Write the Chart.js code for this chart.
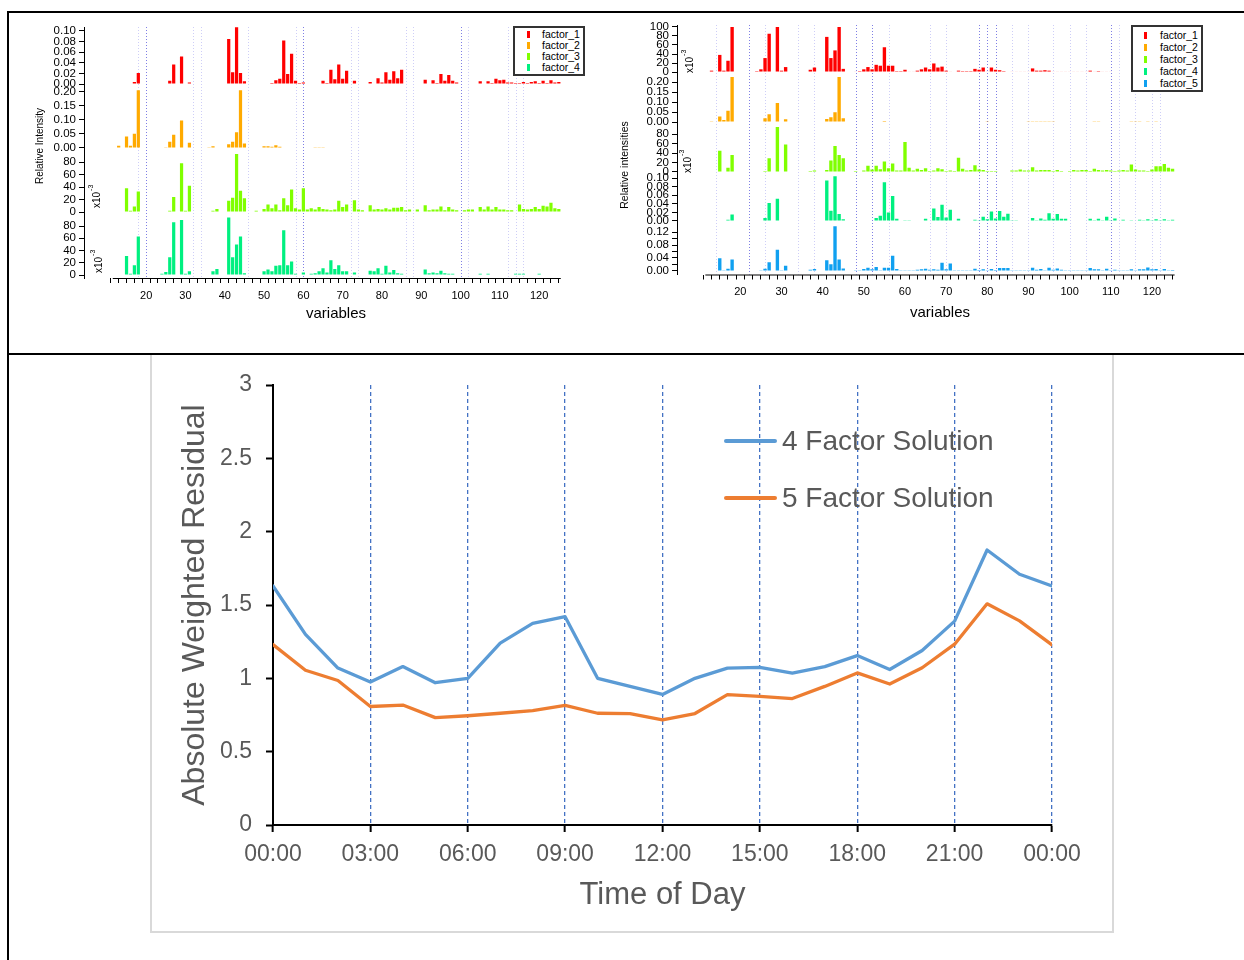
<!DOCTYPE html>
<html lang="en">
<head>
<meta charset="utf-8">
<title>Factor profiles and absolute weighted residual</title>
<script src="https://cdn.jsdelivr.net/npm/chart.js@4.4.1/dist/chart.umd.min.js"></script>
<style>
  html, body { margin: 0; padding: 0; background: #fff; }
  body { position: relative; width: 1244px; height: 960px; overflow: hidden;
         font-family: 'Liberation Sans', Arial, sans-serif; }
  canvas { position: absolute; }
  .rule { position: absolute; background: #000; }
  .frame { position: absolute; left: 150px; top: 354px; width: 960px; height: 577px;
           border: 2px solid #d9d9d9; border-top: none; }
  .legend { position: absolute; background: #fff; border: 2px solid #333; box-sizing: border-box; }
  .legend .item { position: absolute; font-size: 10.5px; line-height: 12px; white-space: nowrap; color: #000; }
  .legend .mark { position: absolute; width: 3px; height: 7px; }
  .res-item { position: absolute; font-size: 28px; line-height: 28px; color: #595959; white-space: nowrap; }
  .res-line { position: absolute; height: 4px; border-radius: 2px; }
</style>
</head>
<body>
<div class="frame"></div>
<canvas id="profilesLeft" width="600" height="340" style="left:0;top:0"></canvas>
<canvas id="profilesRight" width="644" height="340" style="left:600px;top:0"></canvas>
<canvas id="residuals" width="958" height="575" style="left:152px;top:356px"></canvas>
<div id="legendLeft" class="legend" style="left:513px;top:26px;width:72px;height:50px"></div>
<div id="legendRight" class="legend" style="left:1131px;top:25px;width:72px;height:67px"></div>
<div id="legendRes"></div>
<div class="rule" style="left:8px;top:11px;width:1236px;height:2px"></div>
<div class="rule" style="left:7px;top:11px;width:2px;height:949px"></div>
<div class="rule" style="left:8px;top:353px;width:1236px;height:2px"></div>

<script>
// ══════════════════════════════════════════════════════════════
//  Factor profiles (4 / 5 factors) · absolute weighted residual
// ══════════════════════════════════════════════════════════════

// ─── Data: profiles (variables 12 … 125) ───────────────────────
const VARIABLES = Array.from({ length: 114 }, (_, i) => 12 + i);
const VAR_TICKS = [12, 14, 16, 18, 20, 22, 24, 26, 28, 30, 32, 34, 36, 38, 40, 42, 44, 46, 48, 50,
  52, 54, 56, 58, 60, 62, 64, 66, 68, 70, 72, 74, 76, 78, 80, 82, 84, 86, 88, 90,
  92, 94, 96, 98, 100, 102, 104, 106, 108, 110, 112, 114, 116, 118, 120, 122, 124];
const VAR_LABELS = [20, 30, 40, 50, 60, 70, 80, 90, 100, 110, 120];

const FACTOR_NAMES  = ['factor_1', 'factor_2', 'factor_3', 'factor_4', 'factor_5'];
const FACTOR_COLORS = ['#ff0000', '#ffaa00', '#80ff00', '#00f080', '#10a0f0'];

// 4-factor solution (left)
const LEFT_F1 = [
  0, 0, 0, 0.001, 0.001, 0.004, 0.021, 0, 0, 0,
  0, 0, 0, 0, 0.006, 0.037, 0, 0.052, 0.001, 0.003,
  0, 0, 0, 0, 0, 0.001, 0.001, 0, 0, 0.085,
  0.022, 0.107, 0.021, 0.005, 0, 0, 0, 0, 0.001, 0.001,
  0.002, 0.007, 0.010, 0.082, 0.019, 0.057, 0.006, 0.002, 0.003, 0.001,
  0, 0, 0.001, 0.006, 0.002, 0.027, 0.009, 0.037, 0.010, 0.025,
  0, 0.006, 0.001, 0, 0, 0.004, 0.001, 0.011, 0.003, 0.022,
  0.008, 0.024, 0.011, 0.027, 0.001, 0.001, 0, 0, 0, 0.008,
  0.001, 0.007, 0.002, 0.019, 0.006, 0.017, 0.006, 0.003, 0.001, 0,
  0, 0.001, 0.001, 0.005, 0.001, 0.005, 0.002, 0.010, 0.007, 0.008,
  0.003, 0.003, 0.002, 0.002, 0.004, 0.002, 0.004, 0.005, 0.002, 0.006,
  0.002, 0.007, 0.003, 0.004];
const LEFT_F2 = [
  0, 0.008, 0, 0.041, 0.008, 0.051, 0.206, 0, 0, 0,
  0, 0, 0.002, 0.003, 0.022, 0.047, 0.002, 0.098, 0.002, 0.019,
  0, 0, 0, 0, 0.003, 0.006, 0, 0, 0, 0.013,
  0.022, 0.056, 0.206, 0.016, 0, 0, 0, 0, 0.006, 0.006,
  0.004, 0.010, 0.004, 0, 0.002, 0, 0.002, 0.002, 0.002, 0,
  0.002, 0.003, 0.003, 0.003, 0.002, 0.002, 0.002, 0.002, 0.002, 0.002,
  0, 0, 0, 0.002, 0.002, 0.002, 0.002, 0.002, 0, 0,
  0, 0, 0, 0, 0, 0, 0, 0, 0, 0.002,
  0, 0, 0, 0, 0, 0, 0, 0, 0, 0,
  0, 0.002, 0.002, 0.002, 0, 0, 0, 0, 0, 0,
  0, 0, 0.002, 0, 0, 0, 0.002, 0.002, 0, 0,
  0, 0.002, 0, 0];
const LEFT_F3 = [ // x10^-3
  0, 0, 0, 38, 2, 9, 33, 0, 0, 0,
  0, 0, 0, 0, 2, 24, 0, 78, 2, 42,
  0, 0, 0, 0, 0, 2, 5, 0, 0, 18,
  23, 93, 34, 22, 0, 0, 2, 0, 5, 12,
  6, 12, 3, 22, 11, 36, 6, 4, 38, 4,
  6, 4, 8, 5, 4, 3, 4, 18, 8, 12,
  0, 19, 4, 3, 0, 11, 4, 5, 4, 6,
  4, 7, 7, 8, 3, 4, 0, 4, 0, 11,
  3, 4, 4, 9, 3, 8, 4, 3, 0, 3,
  4, 4, 0, 8, 4, 9, 4, 8, 4, 4,
  3, 3, 0, 12, 5, 4, 5, 8, 5, 10,
  9, 15, 6, 5];
const LEFT_F4 = [ // x10^-3
  0, 1, 0, 31, 2, 16, 63, 0, 0, 0,
  0, 0, 2, 5, 29, 86, 0, 90, 2, 6,
  0, 0, 0, 0, 0, 6, 10, 0, 0, 94,
  29, 50, 63, 3, 0, 0, 0, 0, 6, 9,
  6, 15, 16, 73, 16, 22, 2, 0, 4, 0,
  2, 3, 6, 11, 4, 24, 10, 16, 6, 6,
  0, 4, 0, 0, 0, 7, 6, 11, 2, 15,
  4, 8, 3, 2, 0, 0, 0, 0, 0, 9,
  3, 4, 3, 7, 3, 2, 2, 0, 0, 0,
  1, 1, 1, 2, 1, 2, 1, 1, 0, 0,
  0, 0, 2, 2, 2, 0, 0, 0, 2, 0,
  0, 0, 0, 1];

// 5-factor solution (right)
const RIGHT_F1 = [ // x10^-3
  0, 3, 0, 38, 3, 25, 100, 0, 0, 0,
  0, 0, 2, 6, 31, 85, 0, 100, 3, 11,
  0, 0, 0, 0, 0, 5, 10, 0, 0, 78,
  31, 48, 100, 7, 0, 0, 1, 2, 6, 11,
  6, 16, 14, 55, 14, 14, 2, 2, 5, 1,
  1, 3, 6, 10, 6, 19, 10, 12, 3, 1,
  0, 3, 2, 2, 2, 7, 5, 10, 1, 10,
  5, 4, 2, 0, 1, 1, 1, 1, 1, 8,
  3, 3, 4, 3, 1, 1, 1, 1, 1, 1,
  1, 1, 1, 3, 1, 2, 1, 1, 1, 0,
  0, 0, 0, 0, 0, 0, 0, 0, 0, 0,
  0, 0, 0, 0];
const RIGHT_F2 = [
  0.002, 0.004, 0, 0.027, 0.010, 0.056, 0.225, 0, 0, 0,
  0, 0, 0, 0.002, 0.019, 0.039, 0, 0.095, 0, 0.014,
  0, 0, 0, 0, 0, 0, 0.003, 0, 0, 0.015,
  0.024, 0.049, 0.225, 0.019, 0, 0, 0.002, 0, 0, 0,
  0, 0.003, 0.003, 0.005, 0, 0.002, 0.002, 0.003, 0.002, 0,
  0, 0, 0, 0, 0, 0, 0, 0, 0, 0,
  0, 0, 0, 0, 0, 0, 0, 0, 0.001, 0,
  0, 0, 0, 0, 0, 0, 0, 0, 0.001, 0.001,
  0.001, 0.001, 0.001, 0.001, 0.001, 0, 0, 0, 0, 0,
  0, 0, 0, 0, 0.001, 0.001, 0, 0, 0, 0,
  0, 0, 0, 0.001, 0.001, 0.001, 0, 0.001, 0, 0.001,
  0, 0, 0, 0];
const RIGHT_F3 = [ // x10^-3
  0, 0, 0, 45, 0, 9, 36, 0, 0, 0,
  0, 0, 0, 0, 2, 29, 0, 95, 0, 58,
  0, 0, 0, 0, 0, 2, 3, 0, 0, 4,
  24, 55, 36, 29, 0, 0, 2, 0, 3, 13,
  5, 13, 6, 22, 8, 18, 3, 3, 63, 9,
  3, 7, 4, 8, 2, 3, 8, 6, 2, 3,
  2, 30, 7, 3, 4, 14, 5, 4, 2, 2,
  2, 1, 0, 0, 3, 3, 5, 3, 3, 10,
  3, 4, 4, 4, 2, 4, 2, 1, 2, 4,
  3, 4, 4, 2, 7, 4, 3, 4, 3, 2,
  3, 4, 3, 16, 5, 3, 3, 2, 5, 12,
  12, 17, 9, 7];
const RIGHT_F4 = [
  0, 0, 0, 0, 0.001, 0.003, 0.015, 0, 0, 0,
  0, 0, 0, 0, 0.007, 0.042, 0, 0.052, 0.001, 0,
  0, 0, 0, 0, 0, 0, 0.001, 0, 0, 0.094,
  0.024, 0.104, 0.016, 0.004, 0, 0, 0, 0, 0, 0.001,
  0.001, 0.007, 0.012, 0.090, 0.020, 0.058, 0.005, 0.001, 0.002, 0.002,
  0.001, 0.001, 0.001, 0.005, 0.001, 0.029, 0.009, 0.038, 0.008, 0.026,
  0.001, 0.005, 0.001, 0.001, 0, 0.003, 0.002, 0.010, 0.004, 0.022,
  0.006, 0.023, 0.010, 0.017, 0.002, 0.002, 0, 0, 0, 0.007,
  0.002, 0.006, 0.003, 0.018, 0.005, 0.016, 0.005, 0.005, 0.001, 0.001,
  0.001, 0.001, 0.001, 0.005, 0.002, 0.005, 0.002, 0.010, 0.002, 0.006,
  0.001, 0.003, 0.001, 0.002, 0.001, 0.003, 0.002, 0.004, 0.002, 0.004,
  0.002, 0.004, 0.002, 0.003];
const RIGHT_F5 = [
  0, 0, 0, 0.039, 0.002, 0.007, 0.035, 0, 0, 0,
  0, 0, 0, 0.002, 0.007, 0.027, 0, 0.065, 0.001, 0.016,
  0, 0, 0, 0, 0, 0.004, 0.006, 0, 0, 0.033,
  0.021, 0.138, 0.035, 0.008, 0, 0, 0.001, 0.002, 0.006, 0.010,
  0.005, 0.012, 0.002, 0.010, 0.010, 0.047, 0.006, 0.002, 0.002, 0.002,
  0.002, 0.004, 0.005, 0.007, 0.004, 0.005, 0.004, 0.025, 0.005, 0.023,
  0.002, 0.001, 0.002, 0.002, 0.002, 0.007, 0.003, 0.005, 0.002, 0.006,
  0.003, 0.009, 0.009, 0.009, 0.002, 0.002, 0.002, 0.002, 0.002, 0.010,
  0.004, 0.006, 0.002, 0.010, 0.004, 0.008, 0.004, 0.002, 0.002, 0.002,
  0.002, 0.002, 0.002, 0.009, 0.005, 0.005, 0.002, 0.007, 0.002, 0.004,
  0.001, 0.001, 0.001, 0.005, 0.002, 0.005, 0.005, 0.011, 0.005, 0.006,
  0.002, 0.006, 0.002, 0.003];

// tick labels of every row
const LEFT_F1_TICKS  = [0, 0.02, 0.04, 0.06, 0.08, 0.10];
const LEFT_F2_TICKS  = [0, 0.05, 0.10, 0.15, 0.20];
const LEFT_F3_TICKS  = [0, 20, 40, 60, 80];
const LEFT_F4_TICKS  = [0, 20, 40, 60, 80];
const RIGHT_F1_TICKS = [0, 20, 40, 60, 80, 100];
const RIGHT_F2_TICKS = [0, 0.05, 0.10, 0.15, 0.20];
const RIGHT_F3_TICKS = [0, 20, 40, 60, 80];
const RIGHT_F4_TICKS = [0, 0.02, 0.04, 0.06, 0.08, 0.10];
const RIGHT_F5_TICKS = [0, 0.04, 0.08, 0.12];
const RIGHT_F5_MINOR = [0.02, 0.06, 0.10];

// dotted marker lines across the profiles
const LEFT_MARKS  = [18, 20, 32, 34, 46, 58, 60, 72, 74, 86, 88, 100, 102, 112, 114, 116];
const LEFT_DARK   = [20, 60, 100];
const RIGHT_MARKS = [14, 22, 26, 34, 38, 48, 52, 56, 66, 70, 78, 80, 82, 86, 90, 96, 100, 104, 110, 112, 116, 120, 122];
const RIGHT_DARK  = [22, 48, 52, 78, 80, 82, 110];

// ─── Data: diurnal residual ────────────────────────────────────
const HOURS       = [0, 1, 2, 3, 4, 5, 6, 7, 8, 9, 10, 11, 12, 13, 14, 15, 16, 17, 18, 19, 20, 21, 22, 23, 24];
const FOUR_FACTOR = [1.63, 1.30, 1.07, 0.975, 1.08, 0.97, 1.00, 1.24, 1.375, 1.42, 1.00, 0.945, 0.89,
                     1.00, 1.07, 1.075, 1.035, 1.08, 1.155, 1.06, 1.19, 1.39, 1.875, 1.71, 1.63];
const FIVE_FACTOR = [1.23, 1.055, 0.985, 0.808, 0.818, 0.732, 0.745, 0.762, 0.78, 0.816, 0.762, 0.76, 0.716,
                     0.76, 0.889, 0.877, 0.862, 0.945, 1.037, 0.961, 1.072, 1.233, 1.508, 1.392, 1.228];
const TIME_TICKS  = [0, 3, 6, 9, 12, 15, 18, 21, 24];
const TIME_LABELS = ['00:00', '03:00', '06:00', '09:00', '12:00', '15:00', '18:00', '21:00', '00:00'];
const RES_TICKS   = [0, 0.5, 1, 1.5, 2, 2.5, 3];

Chart.defaults.font.family = "'Liberation Sans', Arial, sans-serif";
Chart.defaults.color = '#000';

// ─── Helpers ──────────────────────────────────────────────────
function drawX10(ctx, x, y) {
  ctx.save();
  ctx.translate(x, y);
  ctx.rotate(-Math.PI / 2);
  ctx.textAlign = 'center';
  ctx.textBaseline = 'middle';
  ctx.font = "10px 'Liberation Sans', Arial, sans-serif";
  ctx.fillText('x10', 0, 0);
  const w = ctx.measureText('x10').width;
  ctx.font = "7px 'Liberation Sans', Arial, sans-serif";
  ctx.textAlign = 'left';
  ctx.fillText('-3', w / 2 + 1, -6);
  ctx.restore();
}

function decorPlugin(cfg) {
  return {
    id: 'profileDecor',
    beforeDatasetsDraw(chart) {
      const { ctx, chartArea: a, scales: { x } } = chart;
      ctx.save();
      ctx.lineWidth = 1;
      ctx.setLineDash([1, 2]);
      cfg.marks.forEach(v => {
        const px = Math.round(x.getPixelForValue(v)) + 0.5;
        ctx.strokeStyle = cfg.dark.includes(v) ? 'rgba(105,105,225,0.85)' : 'rgba(165,165,240,0.55)';
        ctx.beginPath();
        ctx.moveTo(px, a.top);
        ctx.lineTo(px, a.bottom);
        ctx.stroke();
      });
      ctx.restore();
    },
    afterDraw(chart) {
      const { ctx, chartArea: a, scales: { x } } = chart;
      ctx.save();
      // Igor starts the x axis at the first variable, not at the y axis
      ctx.strokeStyle = '#000';
      ctx.lineWidth = 1;
      ctx.beginPath();
      ctx.moveTo(x.getPixelForValue(11.5), a.bottom + 0.5);
      ctx.lineTo(x.getPixelForValue(125.5), a.bottom + 0.5);
      ctx.stroke();

      ctx.fillStyle = '#000';
      ctx.textAlign = 'center';
      ctx.textBaseline = 'middle';
      ctx.font = "15px 'Liberation Sans', Arial, sans-serif";
      ctx.fillText('variables', cfg.xTitle[0], cfg.xTitle[1]);

      ctx.save();
      ctx.translate(cfg.yTitle[0], cfg.yTitle[1]);
      ctx.rotate(-Math.PI / 2);
      ctx.font = cfg.yTitleFont;
      ctx.fillText(cfg.yTitleText, 0, 0);
      ctx.restore();

      cfg.x10.forEach(p => drawX10(ctx, p[0], p[1]));
      ctx.restore();
    }
  };
}

// ─── Stacked factor profiles ──────────────────────────────────
function profileChart(id, cfg) {
  const scales = {
    x: {
      type: 'linear', min: cfg.xMin, max: 125.5,
      afterBuildTicks: s => { s.ticks = VAR_TICKS.map(v => ({ value: v })); },
      afterFit: s => { s.height = cfg.xHeight; },
      border: { display: false },
      grid: { drawOnChartArea: false, color: '#000', tickLength: 5 },
      ticks: { autoSkip: false, maxRotation: 0, padding: 6, font: { size: 11 },
               callback: v => VAR_LABELS.includes(v) ? String(v) : '' }
    }
  };
  // the last stacked axis is laid out on top, so declare rows bottom-up
  for (let i = cfg.rows.length - 1; i >= 0; i--) {
    const row = cfg.rows[i];
    scales['r' + i] = {
      type: 'linear', position: 'left', stack: 'rows', stackWeight: 1, offset: false,
      min: row.min, max: row.max,
      afterBuildTicks: s => { s.ticks = row.ticks.concat(row.minor || []).map(v => ({ value: v })); },
      afterFit: s => { s.width = cfg.yWidth; },
      border: { color: '#000', width: 1 },
      grid: { drawOnChartArea: false, color: '#000', tickLength: 5 },
      ticks: { autoSkip: false, padding: 3, font: { size: 11.5 },
               callback: (v, k) => k < row.ticks.length ? v.toFixed(row.dec) : '' }
    };
  }

  new Chart(document.getElementById(id), {
    type: 'bar',
    data: {
      datasets: cfg.rows.map((row, i) => ({
        label: FACTOR_NAMES[i],
        yAxisID: 'r' + i,
        data: VARIABLES.map((v, k) => ({ x: v, y: row.values[k] })),
        backgroundColor: FACTOR_COLORS[i],
        borderWidth: 0,
        grouped: false,
        categoryPercentage: 1,
        barPercentage: 0.82,
      }))
    },
    options: {
      responsive: false,
      animation: false,
      layout: { padding: { left: 0, top: cfg.top, right: cfg.right, bottom: 0 } },
      plugins: { legend: { display: false }, tooltip: { enabled: false } },
      scales
    },
    plugins: [decorPlugin(cfg)]
  });
}

function buildLegend(id, count, firstY, step, markX, textX) {
  const box = document.getElementById(id);
  for (let i = 0; i < count; i++) {
    const cy = firstY + i * step;
    const mark = document.createElement('div');
    mark.className = 'mark';
    mark.style.cssText = `left:${markX}px;top:${cy - 3.5}px;background:${FACTOR_COLORS[i]}`;
    const item = document.createElement('div');
    item.className = 'item';
    item.style.cssText = `left:${textX}px;top:${cy - 6}px`;
    item.textContent = FACTOR_NAMES[i];
    box.append(mark, item);
  }
}

// ─── Residual chart ───────────────────────────────────────────
function residualChart() {
  const series = [
    { label: '4 Factor Solution', values: FOUR_FACTOR, color: '#5b9bd5' },
    { label: '5 Factor Solution', values: FIVE_FACTOR, color: '#ed7d31' },
  ];
  new Chart(document.getElementById('residuals'), {
    type: 'line',
    data: {
      datasets: series.map(s => ({
        label: s.label,
        data: HOURS.map((h, i) => ({ x: h, y: s.values[i] })),
        borderColor: s.color, backgroundColor: s.color,
        borderWidth: 3.3, pointRadius: 0, tension: 0,
        borderJoinStyle: 'round', borderCapStyle: 'round',
      }))
    },
    options: {
      responsive: false,
      animation: false,
      layout: { padding: { left: 0, top: 29, right: 58, bottom: 6 } },
      plugins: { legend: { display: false }, tooltip: { enabled: false } },
      scales: {
        x: {
          type: 'linear', min: 0, max: 24,
          afterBuildTicks: s => { s.ticks = TIME_TICKS.map(v => ({ value: v })); },
          afterFit: s => { s.height = 100; },
          grid: {
            color: c => (c.tick && c.tick.value === 0) ? 'rgba(0,0,0,0)' : '#4472c4',
            lineWidth: 1.3, tickColor: '#000', tickWidth: 2, tickLength: 7
          },
          border: { color: '#000', width: 2, dash: [4, 3] },
          ticks: { padding: 9, color: '#595959', font: { size: 23 }, maxRotation: 0,
                   callback: (v, i) => TIME_LABELS[i] },
          title: { display: true, text: 'Time of Day', color: '#595959', font: { size: 31 },
                   padding: { top: 0, bottom: 11 } }
        },
        y: {
          min: 0, max: 3,
          afterBuildTicks: s => { s.ticks = RES_TICKS.map(v => ({ value: v })); },
          afterFit: s => { s.width = 121; },
          grid: { drawOnChartArea: false, color: '#000', tickWidth: 2, tickLength: 7 },
          border: { color: '#000', width: 2 },
          ticks: { padding: 14, color: '#595959', font: { size: 23 }, callback: v => String(v) },
          title: { display: true, text: 'Absolute Weighted Residual', color: '#595959',
                   font: { size: 32 }, padding: { top: 24, bottom: 0 } }
        }
      }
    }
  });

  // legend floating over the plot, as in the spreadsheet original
  const holder = document.getElementById('legendRes');
  series.forEach((s, i) => {
    const cy = 441 + i * 57;
    const line = document.createElement('div');
    line.className = 'res-line';
    line.style.cssText = `left:724px;top:${cy - 2}px;width:53px;background:${s.color}`;
    const txt = document.createElement('div');
    txt.className = 'res-item';
    txt.style.cssText = `left:782px;top:${cy - 14}px`;
    txt.textContent = s.label;
    holder.append(line, txt);
  });
}

// ─── Init ─────────────────────────────────────────────────────
profileChart('profilesLeft', {
  xMin: 5.25, top: 27, right: 35, yWidth: 84, xHeight: 62,
  rows: [
    { values: LEFT_F1, ticks: LEFT_F1_TICKS, dec: 2, min: -0.0108, max: 0.1075 },
    { values: LEFT_F2, ticks: LEFT_F2_TICKS, dec: 2, min: -0.0161, max: 0.208 },
    { values: LEFT_F3, ticks: LEFT_F3_TICKS, dec: 0, min: -5.2, max: 95.2 },
    { values: LEFT_F4, ticks: LEFT_F4_TICKS, dec: 0, min: -4.9, max: 97.6 },
  ],
  marks: LEFT_MARKS, dark: LEFT_DARK,
  xTitle: [336, 314], yTitle: [40, 146], yTitleText: 'Relative Intensity',
  yTitleFont: "10px 'Liberation Sans', Arial, sans-serif",
  x10: [[97, 200], [99, 265]],
});

profileChart('profilesRight', {
  xMin: 5.68, top: 25, right: 65, yWidth: 77, xHeight: 65.5,
  rows: [
    { values: RIGHT_F1, ticks: RIGHT_F1_TICKS, dec: 0, min: -6.4, max: 104.4 },
    { values: RIGHT_F2, ticks: RIGHT_F2_TICKS, dec: 2, min: -0.014, max: 0.2355 },
    { values: RIGHT_F3, ticks: RIGHT_F3_TICKS, dec: 0, min: -5.7, max: 99.4 },
    { values: RIGHT_F4, ticks: RIGHT_F4_TICKS, dec: 2, min: -0.0084, max: 0.1077 },
    { values: RIGHT_F5, ticks: RIGHT_F5_TICKS, minor: RIGHT_F5_MINOR, dec: 2, min: -0.0108, max: 0.1428 },
  ],
  marks: RIGHT_MARKS, dark: RIGHT_DARK,
  xTitle: [340, 313], yTitle: [25, 165], yTitleText: 'Relative intensities',
  yTitleFont: "10.5px 'Liberation Sans', Arial, sans-serif",
  x10: [[90, 65], [88, 165]],
});

buildLegend('legendLeft', 4, 6, 11, 12, 27);
buildLegend('legendRight', 5, 8, 12, 11, 27);
residualChart();
</script>
</body>
</html>
